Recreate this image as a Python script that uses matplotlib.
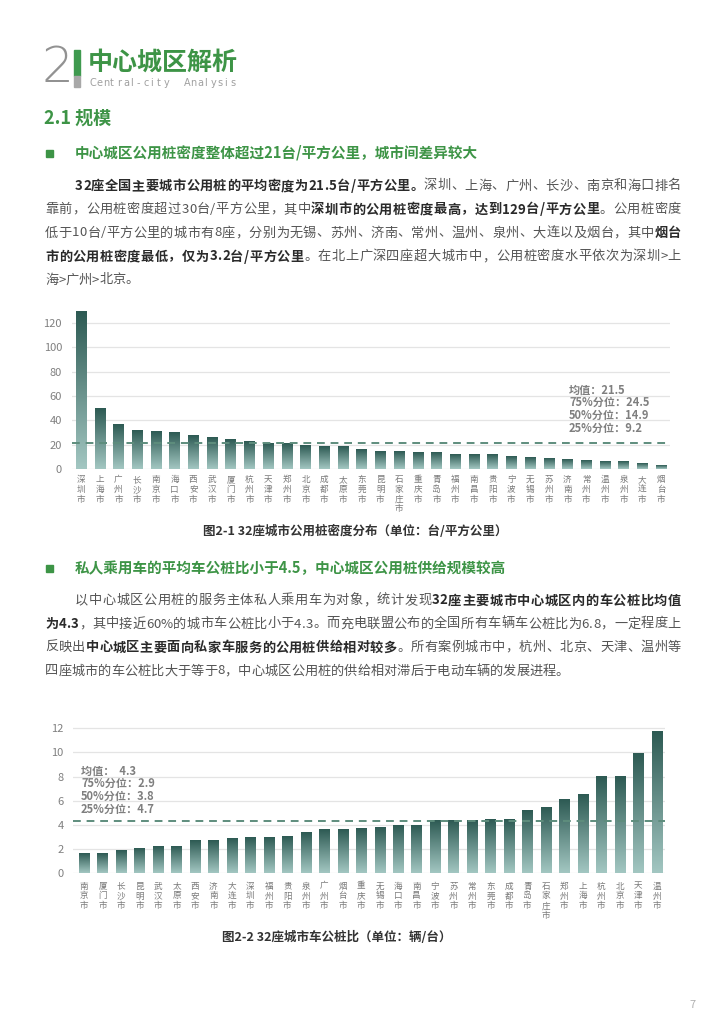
import numpy as np
import matplotlib
matplotlib.use("Agg")
import matplotlib.pyplot as plt
from matplotlib.font_manager import FontProperties
from matplotlib.colors import LinearSegmentedColormap

plt.rcParams['font.family'] = ['Noto Sans CJK SC', 'DejaVu Sans']

# ---- data ----
cities1 = ['深圳市', '上海市', '广州市', '长沙市', '南京市', '海口市', '西安市', '武汉市',
           '厦门市', '杭州市', '天津市', '郑州市', '北京市', '成都市', '太原市', '东莞市',
           '昆明市', '石家庄市', '重庆市', '青岛市', '福州市', '南昌市', '贵阳市', '宁波市',
           '无锡市', '苏州市', '济南市', '常州市', '温州市', '泉州市', '大连市', '烟台市']
density = [129, 49.4, 36.8, 31.7, 30.8, 30.0, 27.3, 25.9,
           24.0, 22.6, 20.7, 20.5, 19.1, 18.6, 18.3, 16.1,
           14.7, 14.2, 13.6, 13.6, 12.0, 12.0, 11.5, 10.4,
           9.0, 8.5, 7.9, 6.8, 6.5, 6.5, 4.4, 3.2]
density_mean = 21.5
stats1 = ['均值：21.5', '75%分位：24.5', '50%分位：14.9', '25%分位：9.2']

cities2 = ['南京市', '厦门市', '长沙市', '昆明市', '武汉市', '太原市', '西安市', '济南市',
           '大连市', '深圳市', '福州市', '贵阳市', '泉州市', '广州市', '烟台市', '重庆市',
           '无锡市', '海口市', '南昌市', '宁波市', '苏州市', '常州市', '东莞市', '成都市',
           '青岛市', '石家庄市', '郑州市', '上海市', '杭州市', '北京市', '天津市', '温州市']
ratio = [1.62, 1.62, 1.85, 2.04, 2.23, 2.23, 2.73, 2.73,
         2.84, 2.95, 2.95, 3.06, 3.39, 3.56, 3.56, 3.67,
         3.78, 3.94, 3.94, 4.33, 4.33, 4.33, 4.44, 4.44,
         5.18, 5.46, 6.07, 6.51, 7.97, 7.97, 9.9, 11.7]
ratio_mean = 4.3
stats2 = ['均值：  4.3', '75%分位：2.9', '50%分位：3.8', '25%分位：4.7']

para1 = [
    [('32座全国主要城市公用桩的平均密度为21.5台/平方公里。', True), ('深圳、上海、广州、长沙、南京和海口排名', False)],
    [('靠前，公用桩密度超过30台/平方公里，其中', False), ('深圳市的公用桩密度最高，达到129台/平方公里', True), ('。公用桩密度', False)],
    [('低于10台/平方公里的城市有8座，分别为无锡、苏州、济南、常州、温州、泉州、大连以及烟台，其中', False), ('烟台', True)],
    [('市的公用桩密度最低，仅为3.2台/平方公里', True), ('。在北上广深四座超大城市中，公用桩密度水平依次为深圳>上', False)],
    [('海>广州>北京。', False)],
]
para2 = [
    [('以中心城区公用桩的服务主体私人乘用车为对象，统计发现', False), ('32座主要城市中心城区内的车公桩比均值', True)],
    [('为4.3', True), ('，其中接近60%的城市车公桩比小于4.3。而充电联盟公布的全国所有车辆车公桩比为6.8，一定程度上', False)],
    [('反映出', False), ('中心城区主要面向私家车服务的公用桩供给相对较多', True), ('。所有案例城市中，杭州、北京、天津、温州等', False)],
    [('四座城市的车公桩比大于等于8，中心城区公用桩的供给相对滞后于电动车辆的发展进程。', False)],
]

GREEN = '#3d9446'
W, H = 710, 1025

fig = plt.figure(figsize=(W / 100, H / 100), dpi=100)
fig.patch.set_facecolor('white')
page = fig.add_axes([0, 0, 1, 1])
page.set_xlim(0, W)
page.set_ylim(H, 0)
page.axis('off')
renderer = fig.canvas.get_renderer()


def draw_line(x, y, segs, size, right=None):
    # draws a line char by char, justified to `right` if given
    props = {False: FontProperties(family='Noto Sans CJK SC', size=size),
             True: FontProperties(family='Noto Sans CJK SC', size=size, weight='bold')}
    chars = [(c, b) for s, b in segs for c in s]
    ws = [renderer.get_text_width_height_descent(c, props[b], ismath=False)[0] for c, b in chars]
    gap = 0
    if right is not None and len(chars) > 1:
        gap = (right - x - sum(ws)) / (len(chars) - 1)
    cx = x
    for (c, b), w in zip(chars, ws):
        page.text(cx, y, c, fontproperties=props[b], color='#2a2a2a' if b else '#555555',
                  va='center', ha='left')
        cx += w + gap


def draw_para(lines, ys, size=9.5):
    for i, (segs, y) in enumerate(zip(lines, ys)):
        x0 = 75 if i == 0 else 45
        last = i == len(lines) - 1
        draw_line(x0, y, segs, size, right=None if last else 681)


# ---- header ----
page.text(73, 68, '2', fontsize=36, color='#929292', va='center', ha='right',
          family='DejaVu Sans', fontweight='light')
page.add_patch(plt.Rectangle((74, 50), 6, 26, color='#3f9a4f'))
page.add_patch(plt.Rectangle((74, 76), 6, 10.5, color='#a8a8a8'))
page.text(88, 63, '中心城区解析', fontsize=18, fontweight='bold', color=GREEN, va='center', ha='left')
for i, c in enumerate('Central-city  Analysis'):
    page.text(90 + i * 6.7, 83, c, fontsize=7, color='#a0a0a0', va='center', ha='left',
              family='DejaVu Sans')

page.text(44, 118, '2.1 规模', fontsize=13, fontweight='bold', color=GREEN, va='center', ha='left')

page.add_patch(plt.Rectangle((46, 150), 6.5, 6.5, color=GREEN))
page.text(75, 153, '中心城区公用桩密度整体超过21台/平方公里，城市间差异较大', fontsize=10.5,
          fontweight='bold', color=GREEN, va='center', ha='left')
draw_para(para1, [186, 209.5, 233, 256.5, 280])

page.add_patch(plt.Rectangle((46, 565), 6.5, 6.5, color=GREEN))
page.text(75, 568, '私人乘用车的平均车公桩比小于4.5，中心城区公用桩供给规模较高', fontsize=10.5,
          fontweight='bold', color=GREEN, va='center', ha='left')
draw_para(para2, [600.5, 624, 647.5, 671])

page.text(355, 531, '图2-1 32座城市公用桩密度分布（单位：台/平方公里）', fontsize=9,
          fontweight='bold', color='#333333', ha='center', va='center')
page.text(337, 937, '图2-2 32座城市车公桩比（单位：辆/台）', fontsize=9,
          fontweight='bold', color='#333333', ha='center', va='center')
page.text(693, 1005, '7', fontsize=8, color='#b0b0b0', ha='center', va='center')

cmap = LinearSegmentedColormap.from_list('bar', ['#a3c7c2', '#2d5a53'])
grad = np.linspace(0, 1, 256).reshape(-1, 1)


def bar_chart(rect_px, names, vals, ymax, yticks, mean, xlim, label_pad):
    l, t, r, b = rect_px
    ax = fig.add_axes([l / W, (H - b) / H, (r - l) / W, (b - t) / H])
    bw = 0.56
    for i, v in enumerate(vals):
        ax.imshow(grad, extent=[i - bw / 2, i + bw / 2, 0, v], origin='lower', cmap=cmap,
                  aspect='auto', zorder=2, interpolation='bilinear')
    ax.axhline(mean, color='#5e8d7d', lw=1.4, dashes=(4, 3), zorder=3)
    ax.set_xlim(*xlim)
    ax.set_ylim(0, ymax)
    ax.set_yticks(yticks)
    ax.yaxis.grid(True, color='#e4e4e4', lw=0.9)
    ax.set_axisbelow(True)
    ax.set_xticks(range(len(names)))
    ax.set_xticklabels(['\n'.join(n) for n in names], fontsize=6.2, color='#7a7a7a',
                       linespacing=1.12, va='top')
    ax.tick_params(axis='x', length=0, pad=label_pad)
    ax.tick_params(axis='y', length=0, pad=7, labelsize=8, labelcolor='#808080')
    for s in ax.spines.values():
        s.set_visible(False)
    ax.set_facecolor('none')
    return ax


bar_chart((71.7, 310.4, 670, 469.3), cities1, density, 130, range(0, 121, 20),
          density_mean, (-0.5, 31.48), 4)
for i, s in enumerate(stats1):
    page.text(569, 390 + i * 12.7, s, fontsize=8, fontweight='bold', color='#7f7f7f',
              ha='left', va='center')

bar_chart((73.3, 724.7, 665, 873.3), cities2, ratio, 12.3, range(0, 13, 2),
          ratio_mean, (-0.59, 31.45), 6)
for i, s in enumerate(stats2):
    page.text(81, 771 + i * 12.7, s, fontsize=8, fontweight='bold', color='#7f7f7f',
              ha='left', va='center')

fig.savefig('out.png', dpi=100, facecolor='white')
